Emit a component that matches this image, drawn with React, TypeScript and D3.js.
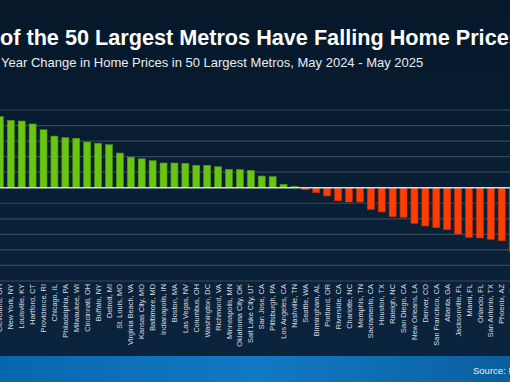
import React from "react";
import * as d3 from "d3";

const metros: string[] = [
  "Cleveland, OH", "New York, NY", "Louisville, KY", "Hartford, CT", "Providence, RI",
  "Chicago, IL", "Philadelphia, PA", "Milwaukee, WI", "Cincinnati, OH", "Buffalo, NY",
  "Detroit, MI", "St. Louis, MO", "Virginia Beach, VA", "Kansas City, MO", "Baltimore, MD",
  "Indianapolis, IN", "Boston, MA", "Las Vegas, NV", "Columbus, OH", "Washington, DC",
  "Richmond, VA", "Minneapolis, MN", "Oklahoma City, OK", "Salt Lake City, UT", "San Jose, CA",
  "Pittsburgh, PA", "Los Angeles, CA", "Nashville, TN", "Seattle, WA", "Birmingham, AL",
  "Portland, OR", "Riverside, CA", "Charlotte, NC", "Memphis, TN", "Sacramento, CA",
  "Houston, TX", "Raleigh, NC", "San Diego, CA", "New Orleans, LA", "Denver, CO",
  "San Francisco, CA", "Atlanta, GA", "Jacksonville, FL", "Miami, FL", "Orlando, FL",
  "San Antonio, TX", "Phoenix, AZ", "Dallas, TX",
];

const yoyChange: number[] = [
  4.57, 4.33, 4.29, 4.1, 3.73,
  3.32, 3.22, 3.18, 2.94, 2.86,
  2.77, 2.23, 1.97, 1.86, 1.74,
  1.59, 1.59, 1.57, 1.44, 1.44,
  1.35, 1.18, 1.16, 1.12, 0.75,
  0.71, 0.22, 0.09, -0.13, -0.32,
  -0.53, -0.84, -0.92, -0.92, -1.39,
  -1.56, -1.86, -1.9, -2.29, -2.46,
  -2.57, -2.7, -2.98, -3.19, -3.23,
  -3.32, -3.41, -4.1,
];

const gridTicks: number[] = [-6, -5, -4, -3, -2, -1, 1, 2, 3, 4, 5];

const titleText = "of the 50 Largest Metros Have Falling Home Prices";
const subtitleText = "Year Change in Home Prices in 50 Largest Metros, May 2024 - May 2025";
const sourceText = "Source: ResiClub";

const W = 510;
const H = 382;

export default function App() {
  const x = d3
    .scaleBand<string>()
    .domain(metros)
    .range([-5.57, 518.1])
    .paddingInner(0.36)
    .paddingOuter(0.18);
  const y = d3.scaleLinear().domain([-6, 5]).range([281, 110]);
  const font = "'Liberation Sans', Arial, sans-serif";

  return (
    <div style={{ position: "absolute", left: 0, top: 0, width: W, height: H }}>
      <svg width={W} height={H} style={{ display: "block" }}>
        <defs>
          <linearGradient id="bg" x1="0" y1="0" x2="0" y2="1">
            <stop offset="0%" stopColor="#06182a" />
            <stop offset="100%" stopColor="#0b243d" />
          </linearGradient>
          <linearGradient id="foot" x1="0" y1="0" x2="1" y2="0">
            <stop offset="0%" stopColor="#0866ad" />
            <stop offset="50%" stopColor="#1279c4" />
            <stop offset="100%" stopColor="#0b5f9f" />
          </linearGradient>
        </defs>
        <rect x={0} y={0} width={W} height={356} fill="url(#bg)" />
        <rect x={0} y={356} width={W} height={H - 356} fill="url(#foot)" />

        <text x={0} y={45} fill="#ffffff" fontFamily={font} fontWeight="bold" fontSize={21.65}>
          {titleText}
        </text>
        <text x={1} y={66.5} fill="#e8edf2" fontFamily={font} fontSize={13}>
          {subtitleText}
        </text>

        {gridTicks.map((t) => (
          <line key={t} x1={0} x2={W} y1={y(t)} y2={y(t)} stroke="#36495b" strokeWidth={1.2} />
        ))}

        {metros.map((m, i) => {
          const v = yoyChange[i];
          const pos = v >= 0;
          const y0 = y(Math.max(0, v));
          const h = Math.abs(y(v) - y(0));
          return (
            <rect
              key={m}
              x={x(m)}
              y={y0}
              width={x.bandwidth()}
              height={h}
              fill={pos ? "#69c511" : "#ff3d00"}
              stroke={pos ? "#4f9612" : "#c2300a"}
              strokeWidth={0.6}
            />
          );
        })}

        <line x1={0} x2={W} y1={y(0)} y2={y(0)} stroke="#d4dae0" strokeWidth={1.6} />

        {metros.map((m) => {
          const cx = (x(m) as number) + x.bandwidth() / 2;
          return (
            <text
              key={"l" + m}
              transform={`translate(${cx},284) rotate(-90)`}
              textAnchor="end"
              dy="0.35em"
              fill="#d6dce2"
              fontFamily={font}
              fontSize={7.4}
            >
              {m}
            </text>
          );
        })}

        <text x={473} y={374} fill="#e6eef6" fontFamily={font} fontSize={9.5}>
          {sourceText}
        </text>
      </svg>
    </div>
  );
}
